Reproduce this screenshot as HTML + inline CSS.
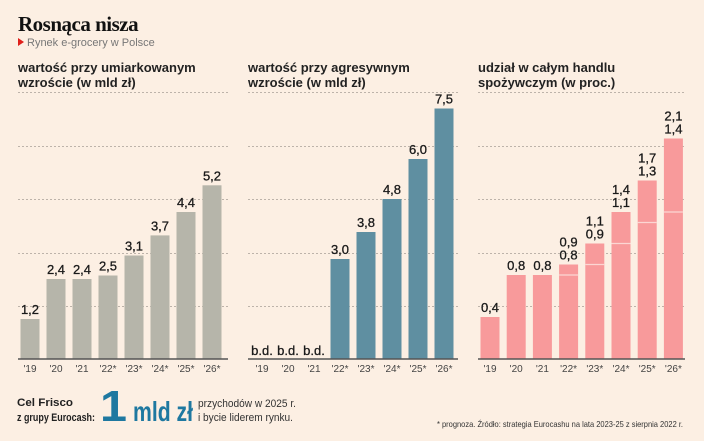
<!DOCTYPE html><html><head><meta charset="utf-8"><style>
body{margin:0;background:#fcefe3;}
svg{display:block;font-family:"Liberation Sans",sans-serif;}
</style></head><body>
<svg width="704" height="441" viewBox="0 0 704 441">
<rect width="704" height="441" fill="#fcefe3"/>
<text x="18" y="31" font-family="Liberation Serif,serif" font-weight="bold" font-size="21" fill="#111" letter-spacing="-0.5">Rosnąca nisza</text>
<path d="M18 38 L24 42 L18 46 Z" fill="#e0201b"/>
<text x="27" y="46" font-size="11" fill="#777">Rynek e-grocery w Polsce</text>
<g font-size="13" font-weight="bold" fill="#222">
<text x="18" y="72">wartość przy umiarkowanym</text><text x="18" y="87">wzroście (w mld zł)</text>
<text x="248" y="72">wartość przy agresywnym</text><text x="248" y="87">wzroście (w mld zł)</text>
<text x="478" y="72">udział w całym handlu</text><text x="478" y="87">spożywczym (w proc.)</text>
</g>
<g stroke="#bdb3aa" stroke-dasharray="2,2" stroke-width="1">
<path d="M18 92.5H228M18 146.5H228M18 199.5H228M18 253.5H228M18 306.5H228"/>
<path d="M248 92.5H458M248 146.5H458M248 199.5H458M248 253.5H458M248 306.5H458"/>
<path d="M478 92.5H685M478 146.5H685M478 199.5H685M478 253.5H685M478 306.5H685"/>
</g>
<g fill="#b6b5aa">
<rect x="20.5" y="319" width="19" height="40"/><rect x="46.5" y="279" width="19" height="80"/><rect x="72.5" y="279" width="19" height="80"/><rect x="98.5" y="275.5" width="19" height="83.5"/><rect x="124.5" y="255.5" width="19" height="103.5"/><rect x="150.5" y="235.4" width="19" height="123.6"/><rect x="176.5" y="212" width="19" height="147"/><rect x="202.5" y="185.3" width="19" height="173.7"/>
</g>
<g fill="#5f8fa1">
<rect x="330.5" y="259" width="19" height="100"/><rect x="356.5" y="232" width="19" height="127"/><rect x="382.5" y="199" width="19" height="160"/><rect x="408.5" y="159" width="19" height="200"/><rect x="434.5" y="108.5" width="19" height="250.5"/>
</g>
<g fill="#f89a9b">
<rect x="480.5" y="317" width="19" height="42"/><rect x="506.7" y="275" width="19" height="84"/><rect x="532.9" y="275" width="19" height="84"/><rect x="559.1" y="264.5" width="19" height="94.5"/><rect x="585.3" y="243.5" width="19" height="115.5"/><rect x="611.5" y="212" width="19" height="147"/><rect x="637.7" y="180.5" width="19" height="178.5"/><rect x="663.9" y="138.5" width="19" height="220.5"/>
</g>
<g stroke="#fcd6d3" stroke-width="1.2">
<path d="M559.1 275H578.1M585.3 264.5H604.3M611.5 243.5H630.5M637.7 222.5H656.7M663.9 212H682.9"/>
</g>
<g stroke="#555" stroke-width="1.5"><path d="M18 359H228M248 359H458M478 359H685"/></g>
<g font-size="13" fill="#1a1a1a" text-anchor="middle" stroke="#1a1a1a" stroke-width="0.3">
<text x="30" y="314">1,2</text><text x="56" y="274">2,4</text><text x="82" y="274">2,4</text><text x="108" y="270.5">2,5</text><text x="134" y="250.5">3,1</text><text x="160" y="230.4">3,7</text><text x="186" y="207">4,4</text><text x="212" y="180.3">5,2</text>
<text x="262" y="355">b.d.</text><text x="288" y="355">b.d.</text><text x="314" y="355">b.d.</text>
<text x="340" y="254">3,0</text><text x="366" y="227">3,8</text><text x="392" y="194">4,8</text><text x="418" y="154">6,0</text><text x="444" y="103.5">7,5</text>
<text x="490" y="312">0,4</text><text x="516.2" y="270">0,8</text><text x="542.4" y="270">0,8</text>
<text x="568.6" y="259.5">0,8</text><text x="568.6" y="246.5">0,9</text>
<text x="594.8" y="238.5">0,9</text><text x="594.8" y="225.5">1,1</text>
<text x="621" y="207">1,1</text><text x="621" y="194">1,4</text>
<text x="647.2" y="175.5">1,3</text><text x="647.2" y="162.5">1,7</text>
<text x="673.4" y="133.5">1,4</text><text x="673.4" y="120.5">2,1</text>
</g>
<g font-size="10" fill="#444" text-anchor="middle">
<text x="30" y="372">'19</text><text x="56" y="372">'20</text><text x="82" y="372">'21</text><text x="108" y="372">'22*</text><text x="134" y="372">'23*</text><text x="160" y="372">'24*</text><text x="186" y="372">'25*</text><text x="212" y="372">'26*</text>
<text x="262" y="372">'19</text><text x="288" y="372">'20</text><text x="314" y="372">'21</text><text x="340" y="372">'22*</text><text x="366" y="372">'23*</text><text x="392" y="372">'24*</text><text x="418" y="372">'25*</text><text x="444" y="372">'26*</text>
<text x="490" y="372">'19</text><text x="516.2" y="372">'20</text><text x="542.4" y="372">'21</text><text x="568.6" y="372">'22*</text><text x="594.8" y="372">'23*</text><text x="621" y="372">'24*</text><text x="647.2" y="372">'25*</text><text x="673.4" y="372">'26*</text>
</g>
<g font-size="11" font-weight="bold" fill="#222">
<text x="17" y="406" textLength="56" lengthAdjust="spacingAndGlyphs">Cel Frisco</text><text x="17" y="421" textLength="78" lengthAdjust="spacingAndGlyphs">z grupy Eurocash:</text>
</g>
<text x="100" y="421" font-size="44" font-weight="bold" fill="#1e78a0" textLength="27" lengthAdjust="spacingAndGlyphs">1</text>
<text x="133" y="421" font-size="28" font-weight="bold" fill="#1e78a0" textLength="60" lengthAdjust="spacingAndGlyphs">mld zł</text>
<g font-size="11" fill="#333">
<text x="198" y="407" textLength="98" lengthAdjust="spacingAndGlyphs">przychodów w 2025 r.</text><text x="198" y="421" textLength="95" lengthAdjust="spacingAndGlyphs">i bycie liderem rynku.</text>
</g>
<text x="683" y="427" font-size="8.5" fill="#333" text-anchor="end" textLength="246" lengthAdjust="spacingAndGlyphs">* prognoza. Źródło: strategia Eurocashu na lata 2023-25 z sierpnia 2022 r.</text>
</svg>
</body></html>
